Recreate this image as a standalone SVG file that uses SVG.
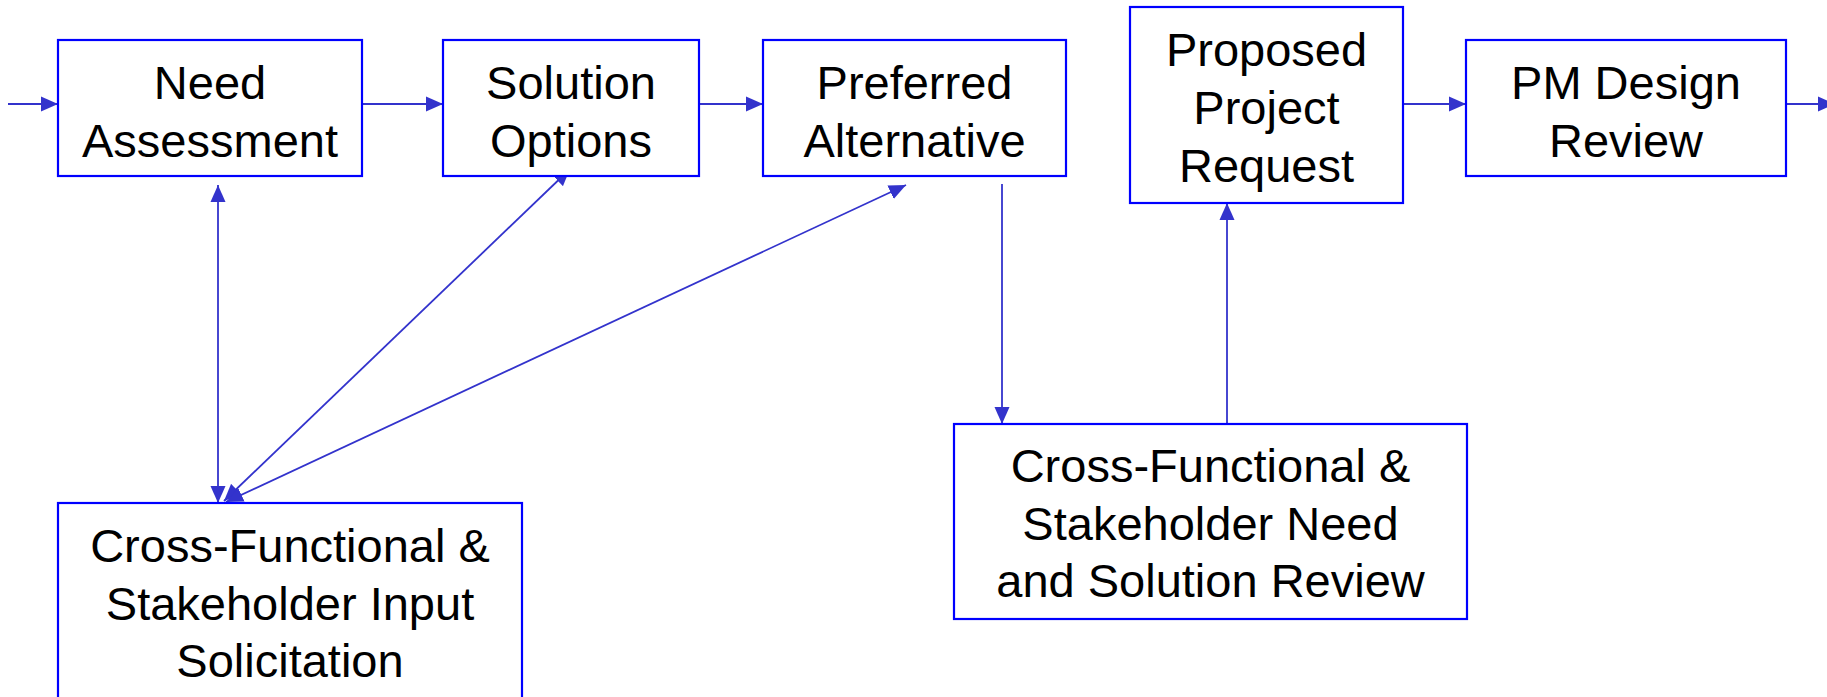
<svg xmlns="http://www.w3.org/2000/svg" width="1827" height="697" viewBox="0 0 1827 697">
<style>
.box{fill:#fff;stroke:#0000ff;stroke-width:2.2}
.t{font-family:"Liberation Sans",Arial,sans-serif;font-size:47px;fill:#000;text-anchor:middle}
.c{stroke:#3333cc;stroke-width:1.8;fill:none}
</style>
<defs>
<marker id="ah" markerUnits="userSpaceOnUse" markerWidth="18" markerHeight="16" refX="17" refY="7.5" orient="auto-start-reverse" viewBox="0 0 18 15">
<path d="M0,0 L17,7.5 L0,15 Z" fill="#3333cc"/>
</marker>
</defs>
<rect width="1827" height="697" fill="#fff"/>
<g id="connectors">
<line class="c" x1="8" y1="104" x2="58" y2="104" marker-end="url(#ah)"/>
<line class="c" x1="362" y1="104" x2="443" y2="104" marker-end="url(#ah)"/>
<line class="c" x1="699" y1="104" x2="763" y2="104" marker-end="url(#ah)"/>
<line class="c" x1="1403" y1="104" x2="1466" y2="104" marker-end="url(#ah)"/>
<line class="c" x1="1786" y1="104" x2="1835" y2="104" marker-end="url(#ah)"/>
<line class="c" x1="218" y1="185" x2="218" y2="503" marker-start="url(#ah)" marker-end="url(#ah)"/>
<line class="c" x1="224" y1="501" x2="570" y2="169" marker-start="url(#ah)" marker-end="url(#ah)"/>
<line class="c" x1="226" y1="502" x2="906" y2="185" marker-start="url(#ah)" marker-end="url(#ah)"/>
<line class="c" x1="1002" y1="184" x2="1002" y2="424" marker-end="url(#ah)"/>
<line class="c" x1="1227" y1="424" x2="1227" y2="203" marker-end="url(#ah)"/>
</g>
<g id="need-assessment">
<rect class="box" x="58" y="40" width="304" height="136"/>
<text class="t" x="210" y="99">Need</text>
<text class="t" x="210" y="157">Assessment</text>
</g>
<g id="solution-options">
<rect class="box" x="443" y="40" width="256" height="136"/>
<text class="t" x="571" y="99">Solution</text>
<text class="t" x="571" y="157">Options</text>
</g>
<g id="preferred-alternative">
<rect class="box" x="763" y="40" width="303" height="136"/>
<text class="t" x="914.5" y="99">Preferred</text>
<text class="t" x="914.5" y="157">Alternative</text>
</g>
<g id="proposed-project-request">
<rect class="box" x="1130" y="7" width="273" height="196"/>
<text class="t" x="1266.5" y="66">Proposed</text>
<text class="t" x="1266.5" y="124">Project</text>
<text class="t" x="1266.5" y="182">Request</text>
</g>
<g id="pm-design-review">
<rect class="box" x="1466" y="40" width="320" height="136"/>
<text class="t" x="1626" y="99">PM Design</text>
<text class="t" x="1626" y="157">Review</text>
</g>
<g id="input-solicitation">
<rect class="box" x="58" y="503" width="464" height="210"/>
<text class="t" x="290" y="562">Cross-Functional &amp;</text>
<text class="t" x="290" y="620">Stakeholder Input</text>
<text class="t" x="290" y="677">Solicitation</text>
</g>
<g id="need-solution-review">
<rect class="box" x="954" y="424" width="513" height="195"/>
<text class="t" x="1210.5" y="482">Cross-Functional &amp;</text>
<text class="t" x="1210.5" y="540">Stakeholder Need</text>
<text class="t" x="1210.5" y="597">and Solution Review</text>
</g>
</svg>
